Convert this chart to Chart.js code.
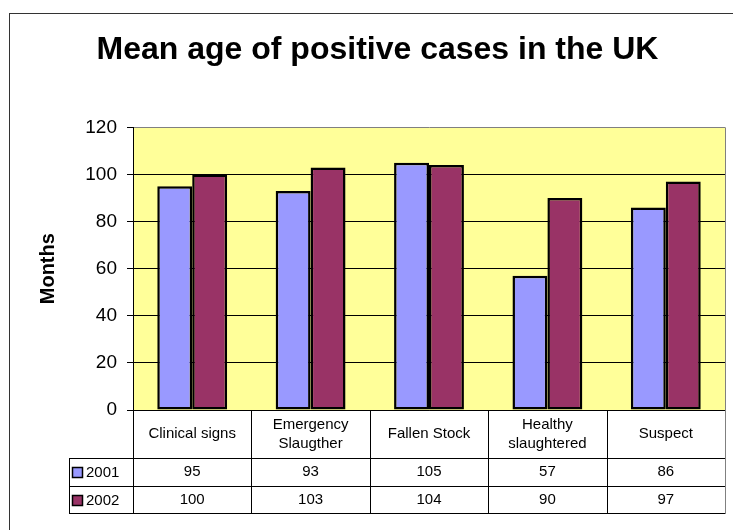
<!DOCTYPE html>
<html>
<head>
<meta charset="utf-8">
<script src="https://cdn.jsdelivr.net/npm/chart.js@4"></script>
<style>
  body { margin: 0; background: #fff; }
  canvas { display: block; }
</style>
</head>
<body>
<canvas id="grafikUmur" width="733" height="530"></canvas>
<script>
// data
const kategori = ['Clinical signs', ['Emergency', 'Slaugther'], 'Fallen Stock', ['Healthy', 'slaughtered'], 'Suspect'];
const tahun = ['2001', '2002'];
const nilai2001 = [95, 93, 105, 57, 86];
const nilai2002 = [100, 103, 104, 90, 97];
const tickY = [0, 20, 40, 60, 80, 100, 120];

const warnaSeri = ['#9999FF', '#993366'];
const hurufDasar = "'Liberation Sans', Arial, sans-serif";

// latar kuning + bingkai luar
const latarPlugin = {
    id: 'latar',
    beforeDraw(chart) {
        const { ctx, chartArea } = chart;
        ctx.save();
        ctx.fillStyle = '#FFFF99';
        ctx.fillRect(chartArea.left, chartArea.top, chartArea.right - chartArea.left, chartArea.bottom - chartArea.top);
        ctx.strokeStyle = '#333';
        ctx.lineWidth = 1;
        ctx.strokeRect(9.5, 13.5, 900, 700);
        ctx.restore();
    }
};

// tabel data di bawah grafik
const tabelPlugin = {
    id: 'tabel',
    afterDraw(chart) {
        const { ctx, chartArea } = chart;
        const x = chart.scales.x;
        const kiri = chartArea.left;
        const kanan = chartArea.right;
        const atas = chartArea.bottom;
        const tinggiHeader = 48;
        const tinggiBaris = 28;
        const kiriLegend = 69;
        const bawah = atas + tinggiHeader + tinggiBaris * 2 - 1;
        const lebarKat = (kanan - kiri) / kategori.length;

        ctx.save();
        ctx.lineWidth = 1;
        ctx.strokeStyle = '#000';

        // garis horizontal
        [atas + tinggiHeader, atas + tinggiHeader + tinggiBaris, bawah].forEach(function(y) {
            ctx.beginPath();
            ctx.moveTo(kiriLegend, Math.round(y) + 0.5);
            ctx.lineTo(kanan, Math.round(y) + 0.5);
            ctx.stroke();
        });

        // garis vertikal
        for (let i = 0; i < kategori.length; i++) {
            const gx = Math.round(kiri + i * lebarKat) + 0.5;
            ctx.beginPath();
            ctx.moveTo(gx, atas);
            ctx.lineTo(gx, bawah);
            ctx.stroke();
        }
        ctx.beginPath();
        ctx.moveTo(kiriLegend + 0.5, atas + tinggiHeader);
        ctx.lineTo(kiriLegend + 0.5, bawah);
        ctx.stroke();

        // sisi kanan abu-abu
        ctx.strokeStyle = '#808080';
        ctx.beginPath();
        ctx.moveTo(Math.round(kanan) + 0.5, chartArea.top);
        ctx.lineTo(Math.round(kanan) + 0.5, bawah + 1);
        ctx.stroke();

        ctx.fillStyle = '#000';
        ctx.font = '15px ' + hurufDasar;
        ctx.textAlign = 'center';
        ctx.textBaseline = 'middle';

        kategori.forEach(function(label, i) {
            const cx = x.getPixelForValue(i);
            const baris = Array.isArray(label) ? label : [label];
            const tengah = atas + tinggiHeader / 2;
            baris.forEach(function(teks, j) {
                const ty = tengah + (j - (baris.length - 1) / 2) * 19;
                ctx.fillText(teks, cx, ty);
            });
            ctx.fillText(String(nilai2001[i]), cx, atas + tinggiHeader + tinggiBaris / 2);
            ctx.fillText(String(nilai2002[i]), cx, atas + tinggiHeader + tinggiBaris * 1.5);
        });

        // kunci legenda
        tahun.forEach(function(th, k) {
            const cy = atas + tinggiHeader + tinggiBaris * (k + 0.5);
            ctx.fillStyle = warnaSeri[k];
            ctx.fillRect(72, cy - 5, 10, 10);
            ctx.strokeStyle = '#000';
            ctx.lineWidth = 1.5;
            ctx.strokeRect(72.5, cy - 4.5, 10, 10);
            ctx.fillStyle = '#000';
            ctx.textAlign = 'left';
            ctx.fillText(th, 86, cy + 1);
        });
        ctx.restore();
    }
};

const ctx = document.getElementById('grafikUmur').getContext('2d');
const grafikUmur = new Chart(ctx, {
    type: 'bar',
    data: {
        labels: kategori,
        datasets: [
            {
                label: tahun[0],
                data: nilai2001,
                backgroundColor: warnaSeri[0],
                borderColor: '#000',
                borderWidth: 2.5,
                borderSkipped: false
            },
            {
                label: tahun[1],
                data: nilai2002,
                backgroundColor: warnaSeri[1],
                borderColor: '#000',
                borderWidth: 2.5,
                borderSkipped: false
            }
        ]
    },
    options: {
        responsive: false,
        animation: false,
        layout: {
            padding: { left: 30, right: 8, top: 0, bottom: 0 }
        },
        datasets: {
            bar: {
                categoryPercentage: 0.59,
                barPercentage: 1
            }
        },
        plugins: {
            legend: { display: false },
            tooltip: { enabled: false },
            title: {
                display: true,
                text: 'Mean age of positive cases in the UK',
                color: '#000',
                font: { family: hurufDasar, size: 32, weight: 'bold' },
                padding: { top: 31, bottom: 58 }
            }
        },
        scales: {
            x: {
                ticks: { display: false },
                grid: { display: false },
                border: { display: true, color: '#000', width: 1 },
                afterFit(scale) { scale.height = 120; }
            },
            y: {
                min: 0,
                max: 120,
                afterBuildTicks(scale) {
                    scale.ticks = tickY.map(v => ({ value: v }));
                },
                ticks: {
                    color: '#000',
                    padding: 10,
                    font: { family: hurufDasar, size: 19 }
                },
                grid: {
                    color: c => (c.tick && c.tick.value === 120 ? '#808080' : '#000'),
                    tickColor: '#000',
                    tickLength: 6,
                    lineWidth: 1
                },
                border: { display: true, color: '#000', width: 1 },
                title: {
                    display: true,
                    text: 'Months',
                    color: '#000',
                    font: { family: hurufDasar, size: 20, weight: 'bold' },
                    padding: { top: 6, bottom: 0 }
                },
                afterFit(scale) { scale.width = 103; }
            }
        }
    },
    plugins: [latarPlugin, tabelPlugin]
});
</script>
</body>
</html>
